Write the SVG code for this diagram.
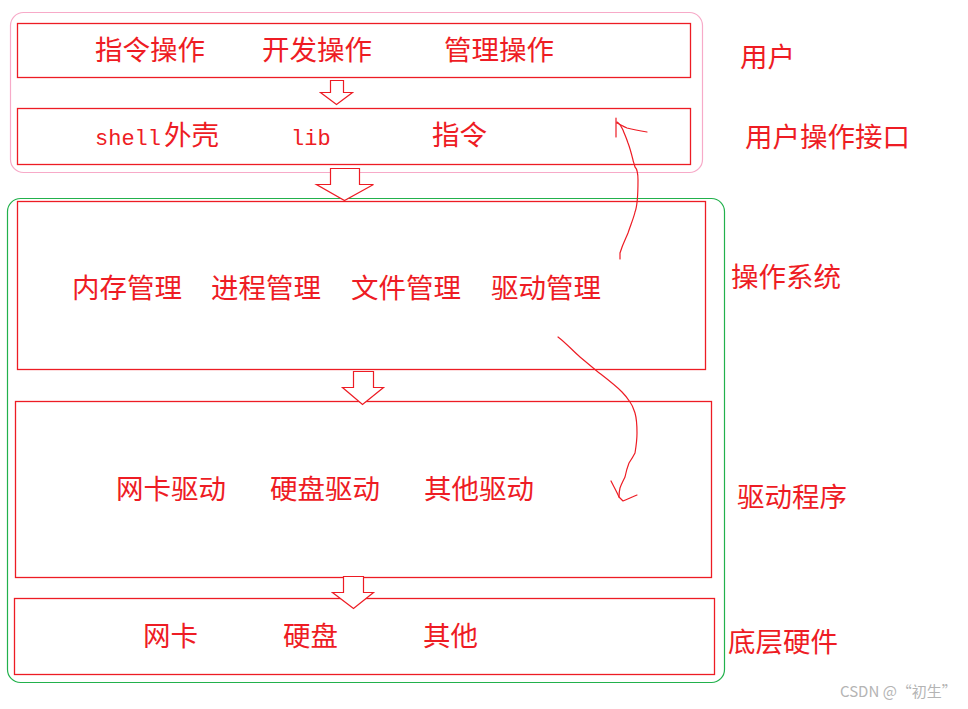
<svg xmlns="http://www.w3.org/2000/svg" width="968" height="709" viewBox="0 0 968 709">
<style>
.box{fill:none;stroke:#ed1c24;stroke-width:1.3}
.blk{fill:#fff;stroke:#ed1c24;stroke-width:1.2}
.t{font-family:"Noto Sans CJK SC","Noto Sans",sans-serif;font-size:27.5px;fill:#ee1c24}
.m{font-family:"Liberation Mono",monospace;font-size:22px;fill:#ee1c24}
.cur{fill:none;stroke:#ed1c24;stroke-width:1.2;stroke-linecap:round;stroke-linejoin:round}
</style>
<rect width="968" height="709" fill="#fff"/>
<g id="group-user"><rect x="10.5" y="12.5" width="692" height="160" rx="13" fill="none" stroke="#f7aac8" stroke-width="1.2"/></g>
<g id="group-system"><rect x="7.5" y="198.5" width="717" height="484" rx="13" fill="none" stroke="#22b14c" stroke-width="1.2"/></g>
<g id="node-ops"><rect class="box" x="17.5" y="23.5" width="673" height="54"/>
<text class="t" x="95" y="60">指令操作</text><text class="t" x="262" y="60">开发操作</text><text class="t" x="444" y="60">管理操作</text></g>
<g id="node-iface"><rect class="box" x="17.5" y="108.5" width="673" height="56"/>
<text class="t" x="95" y="145"><tspan class="m">shell</tspan><tspan x="164">外壳</tspan></text><text class="m" x="291" y="145">lib</text><text class="t" x="432" y="145">指令</text></g>
<g id="node-os"><rect class="box" x="17.5" y="201.5" width="688" height="168"/>
<text class="t" x="72" y="298">内存管理</text><text class="t" x="211" y="298">进程管理</text><text class="t" x="351" y="298">文件管理</text><text class="t" x="491" y="298">驱动管理</text></g>
<g id="node-drivers"><rect class="box" x="15.5" y="401.5" width="696" height="176"/>
<text class="t" x="116" y="499">网卡驱动</text><text class="t" x="270" y="499">硬盘驱动</text><text class="t" x="424" y="499">其他驱动</text></g>
<g id="node-hw"><rect class="box" x="14.5" y="598.5" width="700" height="76"/>
<text class="t" x="143" y="646">网卡</text><text class="t" x="283" y="646">硬盘</text><text class="t" x="423" y="646">其他</text></g>
<g id="labels">
<text class="t" x="740" y="67">用户</text>
<text class="t" x="745" y="147">用户操作接口</text>
<text class="t" x="731" y="287">操作系统</text>
<text class="t" x="737" y="507">驱动程序</text>
<text class="t" x="728" y="652">底层硬件</text>
</g>
<g id="connectors">
<polygon class="blk" points="330.5,80.5 343.5,80.5 343.5,92.5 352.5,92.5 336.5,104.5 320.5,92.5 330.5,92.5"/>
<polygon class="blk" points="330.5,168.5 359.5,168.5 359.5,184.5 373.5,184.5 344.5,200.5 316.5,184.5 330.5,184.5"/>
<polygon class="blk" points="353.5,371.5 373.5,371.5 373.5,387.5 383.5,387.5 362.5,404.5 342.5,387.5 353.5,387.5"/>
<polygon class="blk" points="343.5,576.5 363.5,576.5 363.5,592.5 373.5,592.5 353.5,608.5 332.5,592.5 343.5,592.5"/>
<path class="cur" d="M620,259 L620,253 C623,243 626,238 628,233 C631,224 634,217 635,212 C637,207 638,200 638,180 C638,172 636,168 635,167 C634,163 633,161 633,160 C631,152 630,148 628,143 C626,137 624,133 623,130 C621,126 619,123 617,122"/>
<path class="cur" d="M616,118 L616,137 M617,123 C621,125 624,127 627,128 C635,130 641,131 647,132"/>
<path class="cur" d="M558,337 C566,343 573,351 580,357 C586,362 592,367 598,372 C607,379 615,385 622,392 C626,396 628,399 630,402 C633,406 634,410 635,413 C637,420 637,427 637,433 C637,441 636,447 635,453 C633,457 631,460 629,463 C627,468 626,472 625,477 C623,481 621,485 620,488 C619,492 619,494 619,497"/>
<path class="cur" d="M611,481 C614,487 617,492 619,497 L623,501 C628,499 632,497 637,495"/>
</g>
<text x="840" y="697" font-family="'Noto Sans CJK SC','Noto Sans',sans-serif" font-size="15" fill="#b4b4b4">CSDN @“初生”</text>
</svg>
